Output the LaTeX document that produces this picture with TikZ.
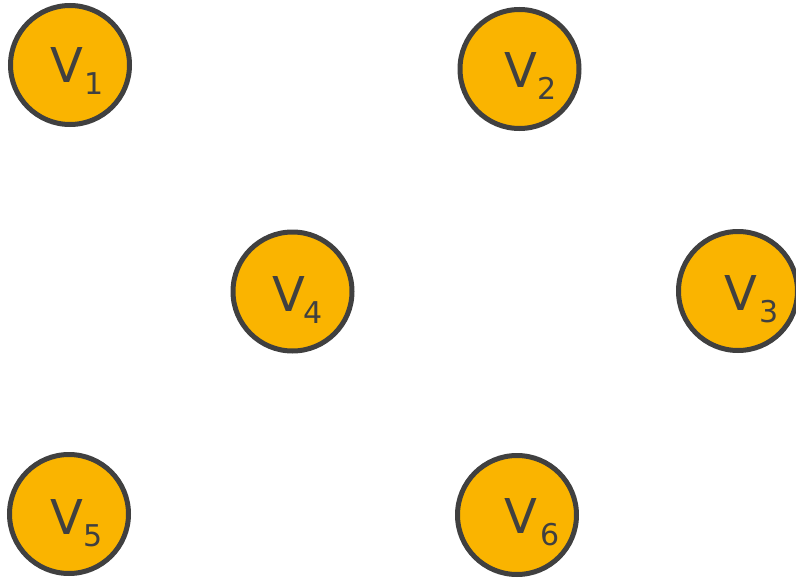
\documentclass[tikz,border=0pt]{standalone}
\usepackage{fontspec}
\setmainfont{DejaVu Sans}
\definecolor{vfill}{HTML}{FAB400}
\definecolor{vline}{HTML}{404040}
\newcommand{\vlabel}[2]{{\fontsize{48}{48}\selectfont V}\kern#2pt\raisebox{-12pt}{\fontsize{30}{30}\selectfont #1}}
\tikzset{
  vert/.style={circle, draw=vline, fill=vfill, line width=5pt, minimum size=119pt, inner sep=0pt},
  vtext/.style={anchor=base west, inner sep=0pt, text=vline}
}
\begin{document}
\begin{tikzpicture}[x=1pt,y=-1pt]
\useasboundingbox (0,0) rectangle (796,578);
\node[vert] (v1) at (70,65) {};
\node[vert] (v2) at (519.5,69) {};
\node[vert] (v4) at (292.5,291.5) {};
\node[vert] (v3) at (738,291) {};
\node[vert] (v5) at (69,514) {};
\node[vert] (v6) at (517,515) {};
\node[vtext] (t1) at (50,83) {\vlabel{1}{1}};
\node[vtext] (t2) at (504,88) {\vlabel{2}{0.5}};
\node[vtext] (t3) at (724,310) {\vlabel{3}{2}};
\node[vtext] (t4) at (272,311) {\vlabel{4}{-2}};
\node[vtext] (t5) at (50,534) {\vlabel{5}{0}};
\node[vtext] (t6) at (504,533) {\vlabel{6}{3}};
\end{tikzpicture}
\end{document}
